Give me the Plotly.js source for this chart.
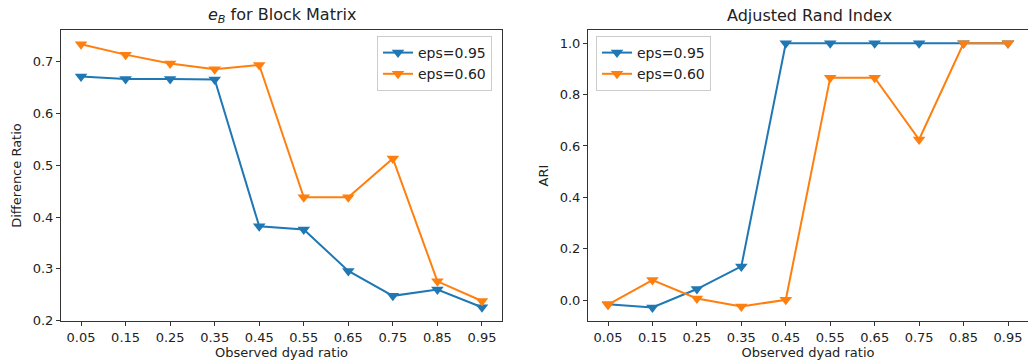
<!DOCTYPE html>
<html>
<head>
<meta charset="utf-8">
<script src="https://cdn.plot.ly/plotly-3.0.1.min.js"></script>
<style>html,body{margin:0;padding:0;background:#fff;}#chart{width:1028px;height:360px;}</style>
</head>
<body>
<div id="chart"></div>
<script>
const ratios = [0.05, 0.15, 0.25, 0.35, 0.45, 0.55, 0.65, 0.75, 0.85, 0.95];
const tickLabels = ["0.05","0.15","0.25","0.35","0.45","0.55","0.65","0.75","0.85","0.95"];
const diffEps95 = [0.671, 0.666, 0.666, 0.665, 0.382, 0.376, 0.296, 0.248, 0.260, 0.226];
const diffEps60 = [0.733, 0.713, 0.696, 0.685, 0.693, 0.438, 0.438, 0.513, 0.276, 0.238];
const ariEps95 = [-0.016, -0.029, 0.043, 0.131, 1.0, 1.0, 1.0, 1.0, 1.0, 1.0];
const ariEps60 = [-0.018, 0.078, 0.006, -0.025, 0.001, 0.866, 0.866, 0.625, 1.0, 1.0];
const seriesNames = ["eps=0.95", "eps=0.60"];
const colors = ["#1f77b4", "#ff7f0e"];

const FONT = "DejaVu Sans, sans-serif";
function tr(y, i, xa, ya, leg) {
  return {
    x: ratios, y: y, name: seriesNames[i], type: "scatter", mode: "lines+markers",
    xaxis: xa, yaxis: ya, legend: leg,
    line: {color: colors[i], width: 2},
    marker: {symbol: "triangle-down", size: 11, color: colors[i]}
  };
}
const data = [
  tr(diffEps95, 0, "x", "y", "legend"),
  tr(diffEps60, 1, "x", "y", "legend"),
  tr(ariEps95, 0, "x2", "y2", "legend2"),
  tr(ariEps60, 1, "x2", "y2", "legend2")
];
const ax = {
  showgrid: false, zeroline: false, showline: true, mirror: true,
  linecolor: "#333", linewidth: 1, ticks: "outside", ticklen: 4, tickcolor: "#333",
  tickfont: {family: FONT, size: 13, color: "#222"}
};
const xax = Object.assign({}, ax, {
  range: [0.005, 0.995], tickvals: ratios, ticktext: tickLabels,
  title: {text: "Observed dyad ratio", font: {family: FONT, size: 13, color: "#222"}, standoff: 6}
});
const legendBase = {
  bgcolor: "rgba(255,255,255,0.8)", bordercolor: "#ccc", borderwidth: 1,
  font: {family: FONT, size: 14, color: "#222"}, tracegroupgap: 0, itemwidth: 30
};
const layout = {
  width: 1028, height: 360,
  margin: {l: 0, r: 0, t: 0, b: 0},
  paper_bgcolor: "#fff", plot_bgcolor: "#fff",
  font: {family: FONT, color: "#222"},
  xaxis: Object.assign({}, xax, {domain: [61/1028, 502/1028], anchor: "y"}),
  yaxis: Object.assign({}, ax, {domain: [1-321/360, 1-30/360], anchor: "x",
    range: [0.1995, 0.7605], tickvals: [0.2,0.3,0.4,0.5,0.6,0.7], ticktext: ["0.2","0.3","0.4","0.5","0.6","0.7"],
    title: {text: "Difference Ratio", font: {family: FONT, size: 13, color: "#222"}, standoff: 8}}),
  xaxis2: Object.assign({}, xax, {domain: [588/1028, 1], anchor: "y2"}),
  yaxis2: Object.assign({}, ax, {domain: [1-321/360, 1-30/360], anchor: "x2",
    range: [-0.0815, 1.0515], tickvals: [0,0.2,0.4,0.6,0.8,1.0], ticktext: ["0.0","0.2","0.4","0.6","0.8","1.0"],
    title: {text: "ARI", font: {family: FONT, size: 13, color: "#222"}, standoff: 8}}),
  showlegend: true,
  legend: Object.assign({}, legendBase, {x: 492/1028, xanchor: "right", y: 1-36/360, yanchor: "top"}),
  legend2: Object.assign({}, legendBase, {x: 596/1028, xanchor: "left", y: 1-36/360, yanchor: "top"}),
  annotations: [
    {text: "<i>e<sub>B</sub></i> for Block Matrix", xref: "paper", yref: "paper",
     x: (61+502)/2/1028, y: 1-16/360, xanchor: "center", yanchor: "middle", showarrow: false,
     font: {family: FONT, size: 16, color: "#222"}},
    {text: "Adjusted Rand Index", xref: "paper", yref: "paper",
     x: (588+1030)/2/1028, y: 1-16/360, xanchor: "center", yanchor: "middle", showarrow: false,
     font: {family: FONT, size: 16, color: "#222"}}
  ]
};
Plotly.newPlot("chart", data, layout, {displayModeBar: false, staticPlot: true});
</script>
</body>
</html>
